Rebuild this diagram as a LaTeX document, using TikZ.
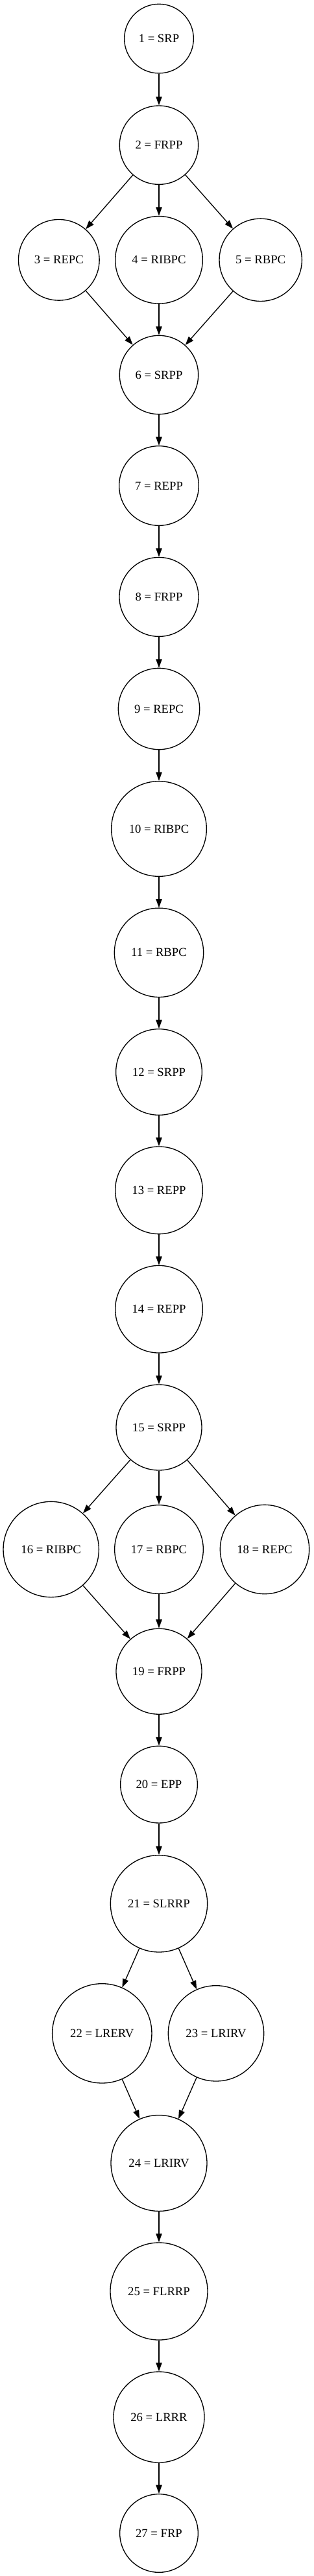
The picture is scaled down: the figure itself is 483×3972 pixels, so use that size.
\documentclass[tikz,border=0pt]{standalone}
\usepackage{fontspec}
\setmainfont{Liberation Serif}
\usetikzlibrary{arrows.meta}
\begin{document}
\begin{tikzpicture}[x=0.75pt, y=-0.75pt, font=\fontsize{14}{17}\selectfont, line join=round,
	>={Triangle[length=10pt,width=7pt]},
	vong/.style={circle, draw, line width=1pt, inner sep=0pt, minimum size=#1}]
		\def\m{245} %cot giua
		\fill[white] (0,0) rectangle (483,3972);
		\useasboundingbox (0,0) rectangle (483,3972);
		\node[vong=80pt] (n1) at (\m,59.6) {1 = SRP};
		\node[vong=91pt] (n2) at (\m,223.7) {2 = FRPP};
		\node[vong=93.5pt] (n3) at (90.8,400.8) {3 = REPC};
		\node[vong=101pt] (n4) at (\m,400.8) {4 = RIBPC};
		\node[vong=95.5pt] (n5) at (401.7,400.8) {5 = RBPC};
		\node[vong=91pt] (n6) at (\m,578) {6 = SRPP};
		\node[vong=92pt] (n7) at (\m,749) {7 = REPP};
		\node[vong=91.5pt] (n8) at (\m,920.4) {8 = FRPP};
		\node[vong=94pt] (n9) at (\m,1093) {9 = REPC};
		\node[vong=110pt] (n10) at (\m,1278) {10 = RIBPC};
		\node[vong=103pt] (n11) at (\m,1468.8) {11 = RBPC};
		\node[vong=99.5pt] (n12) at (\m,1653) {12 = SRPP};
		\node[vong=101pt] (n13) at (\m,1835.3) {13 = REPP};
		\node[vong=101pt] (n14) at (\m,2018.7) {14 = REPP};
		\node[vong=99pt] (n15) at (\m,2201) {15 = SRPP};
		\node[vong=110.5pt] (n16) at (78.7,2389) {16 = RIBPC};
		\node[vong=102.5pt] (n17) at (\m,2389) {17 = RBPC};
		\node[vong=103pt] (n18) at (408,2389) {18 = REPC};
		\node[vong=99pt] (n19) at (\m,2577.2) {19 = FRPP};
		\node[vong=89pt] (n20) at (\m,2751.6) {20 = EPP};
		\node[vong=112pt] (n21) at (\m,2935.3) {21 = SLRRP};
		\node[vong=115pt] (n22) at (157.3,3135.3) {22 = LRERV};
		\node[vong=110.5pt] (n23) at (333,3135.3) {23 = LRIRV};
		\node[vong=111pt] (n24) at (\m,3335.4) {24 = LRIRV};
		\node[vong=112.5pt] (n25) at (\m,3533) {25 = FLRRP};
		\node[vong=105pt] (n26) at (\m,3727) {26 = LRRR};
		\node[vong=90.5pt] (n27) at (\m,3906) {27 = FRP};
		%cac canh
		\draw[->, line width=1pt] (n1)--(n2);
		\draw[->, line width=1pt] (n2)--(n3); \draw[->, line width=1pt] (n2)--(n4); \draw[->, line width=1pt] (n2)--(n5);
		\draw[->, line width=1pt] (n3)--(n6); \draw[->, line width=1pt] (n4)--(n6); \draw[->, line width=1pt] (n5)--(n6);
		\draw[->, line width=1pt] (n6)--(n7);
		\draw[->, line width=1pt] (n7)--(n8);
		\draw[->, line width=1pt] (n8)--(n9);
		\draw[->, line width=1pt] (n9)--(n10);
		\draw[->, line width=1pt] (n10)--(n11);
		\draw[->, line width=1pt] (n11)--(n12);
		\draw[->, line width=1pt] (n12)--(n13);
		\draw[->, line width=1pt] (n13)--(n14);
		\draw[->, line width=1pt] (n14)--(n15);
		\draw[->, line width=1pt] (n15)--(n16); \draw[->, line width=1pt] (n15)--(n17); \draw[->, line width=1pt] (n15)--(n18);
		\draw[->, line width=1pt] (n16)--(n19); \draw[->, line width=1pt] (n17)--(n19); \draw[->, line width=1pt] (n18)--(n19);
		\draw[->, line width=1pt] (n19)--(n20);
		\draw[->, line width=1pt] (n20)--(n21);
		\draw[->, line width=1pt] (n21)--(n22); \draw[->, line width=1pt] (n21)--(n23);
		\draw[->, line width=1pt] (n22)--(n24); \draw[->, line width=1pt] (n23)--(n24);
		\draw[->, line width=1pt] (n24)--(n25);
		\draw[->, line width=1pt] (n25)--(n26);
		\draw[->, line width=1pt] (n26)--(n27);
\end{tikzpicture}
\end{document}
